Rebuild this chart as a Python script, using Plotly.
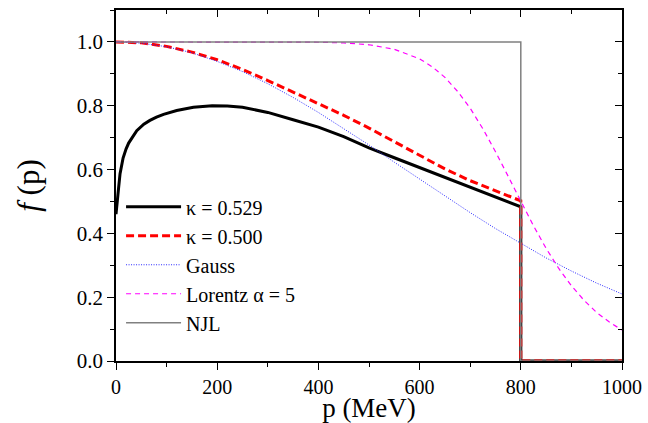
import plotly.graph_objects as go

# ---- data ----
p_k529 = [0, 1, 3, 5, 8, 14, 20, 25, 32, 41, 55, 67, 80, 94, 120, 153, 190,
          220, 250, 300, 350, 400, 450, 500, 550, 600, 650, 700, 750, 800,
          800, 1000]
f_k529 = [0.46, 0.48, 0.51, 0.54, 0.587, 0.636, 0.665, 0.683, 0.70, 0.722,
          0.742, 0.754, 0.764, 0.773, 0.785, 0.795, 0.800, 0.799, 0.795, 0.779,
          0.756, 0.733, 0.703, 0.668, 0.637, 0.606, 0.576, 0.545, 0.514, 0.483,
          0.0, 0.0]

p_k500 = [0, 50, 100, 150, 200, 250, 300, 350, 400, 450, 500, 550, 600, 650,
          700, 750, 800, 800, 1000]
f_k500 = [1.0, 0.997, 0.986, 0.968, 0.944, 0.914, 0.879, 0.843, 0.807, 0.770,
          0.730, 0.688, 0.645, 0.602, 0.565, 0.533, 0.502, 0.0, 0.0]

p_gauss = [0, 50, 100, 150, 200, 250, 300, 350, 400, 450, 500, 550, 600, 650,
           700, 750, 800, 850, 900, 950, 1000]
f_gauss = [1.0, 0.996, 0.985, 0.966, 0.939, 0.907, 0.869, 0.826, 0.779, 0.729,
           0.677, 0.623, 0.570, 0.517, 0.465, 0.415, 0.368, 0.323, 0.282, 0.244,
           0.210]

p_lor = [0, 100, 200, 300, 400, 450, 500, 550, 600, 625, 650, 675, 700, 725,
         750, 775, 800, 825, 850, 875, 900, 925, 950, 975, 1000]
f_lor = [1.0, 1.0, 1.0, 1.0, 0.999, 0.997, 0.991, 0.977, 0.947, 0.922, 0.889,
         0.845, 0.792, 0.728, 0.656, 0.579, 0.500, 0.424, 0.353, 0.290, 0.236,
         0.190, 0.152, 0.122, 0.097]

p_njl = [0, 800, 800, 1000]
f_njl = [1.0, 1.0, 0.0, 0.0]

names = ["κ = 0.529", "κ = 0.500", "Gauss", "Lorentz α = 5", "NJL"]

FONT = "Liberation Serif, Times New Roman, serif"

fig = go.Figure()
fig.add_trace(go.Scatter(x=p_k529, y=f_k529, mode="lines", name=names[0],
                         line=dict(color="black", width=3)))
fig.add_trace(go.Scatter(x=p_k500, y=f_k500, mode="lines", name=names[1],
                         line=dict(color="#ff0000", width=3, dash="8px,4px")))
fig.add_trace(go.Scatter(x=p_gauss, y=f_gauss, mode="lines", name=names[2],
                         line=dict(color="#2a2aff", width=1, dash="1px,1.5px")))
fig.add_trace(go.Scatter(x=p_lor, y=f_lor, mode="lines", name=names[3],
                         line=dict(color="#ff00ff", width=1.2, dash="5px,4px")))
fig.add_trace(go.Scatter(x=p_njl, y=f_njl, mode="lines", name=names[4],
                         line=dict(color="#808080", width=1.5)))
# helper traces so the mirrored (top/right) axes with inward ticks are drawn
fig.add_trace(go.Scatter(x=[None], y=[None], xaxis="x2", yaxis="y",
                         showlegend=False, hoverinfo="skip"))
fig.add_trace(go.Scatter(x=[None], y=[None], xaxis="x", yaxis="y2",
                         showlegend=False, hoverinfo="skip"))

axis_common = dict(showgrid=False, zeroline=False, showline=True,
                   linecolor="black", linewidth=1.5, tickcolor="black",
                   tickwidth=1.2, automargin=False)

fig.update_layout(
    width=648, height=423,
    margin=dict(l=116, r=26, t=10, b=62, autoexpand=False),
    paper_bgcolor="white", plot_bgcolor="white",
    font=dict(family=FONT, color="black", size=20),
    xaxis=dict(range=[0, 1000], tickmode="linear", tick0=0, dtick=200,
               ticks="outside", ticklen=7, mirror=True,
               minor=dict(ticks="outside", dtick=100, ticklen=4,
                          tickcolor="black", tickwidth=1.2),
               title=dict(text="p (MeV)", font=dict(size=27), standoff=6),
               tickfont=dict(size=20), **axis_common),
    yaxis=dict(range=[0, 1.1], tickmode="linear", tick0=0, dtick=0.2,
               tickformat=".1f", ticks="outside", ticklen=7, mirror=True,
               minor=dict(ticks="outside", dtick=0.1, ticklen=4,
                          tickcolor="black", tickwidth=1.2),
               title=dict(text="<i>f</i> (p)", font=dict(size=31), standoff=28),
               tickfont=dict(size=21), **axis_common),
    xaxis2=dict(range=[0, 1000], overlaying="x", side="top", anchor="y",
                tickmode="linear", tick0=0, dtick=200, ticks="inside", ticklen=7,
                minor=dict(ticks="inside", dtick=100, ticklen=4,
                           tickcolor="black", tickwidth=1.2),
                showticklabels=False, **axis_common),
    yaxis2=dict(range=[0, 1.1], overlaying="y", side="right", anchor="x",
                tickmode="linear", tick0=0, dtick=0.2, ticks="inside", ticklen=7,
                minor=dict(ticks="inside", dtick=0.1, ticklen=4,
                           tickcolor="black", tickwidth=1.2),
                showticklabels=False, **axis_common),
    legend=dict(x=0.01, y=0.495, xanchor="left", yanchor="top",
                bgcolor="rgba(0,0,0,0)", borderwidth=0,
                font=dict(size=20, family=FONT), itemwidth=55,
                tracegroupgap=0),
    showlegend=True,
)

fig.write_html("out.html")
